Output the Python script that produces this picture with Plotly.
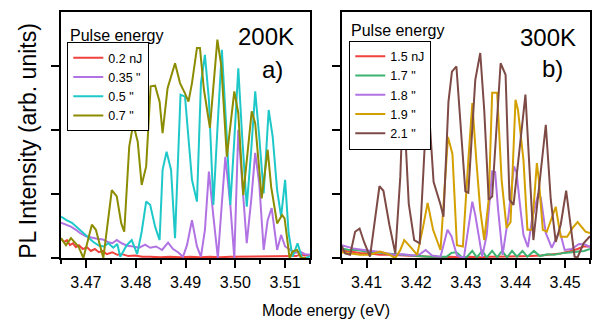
import plotly.graph_objects as go

# ---------------- data: panel a) 200 K ----------------
e_a_02 = [3.4650, 3.4656, 3.4662, 3.4668, 3.4674, 3.4680, 3.4686, 3.4694, 3.4702, 3.4710,
          3.4718, 3.4726, 3.4734, 3.4742, 3.4753, 3.4763, 3.4773, 3.4785, 3.4799, 3.4813,
          3.4829, 3.4849, 3.4869, 3.4889, 3.4909, 3.4929, 3.4949, 3.4970, 3.4990, 3.5010,
          3.5030, 3.5050, 3.5070, 3.5090, 3.5110, 3.5122, 3.5130, 3.5140, 3.5150]
i_a_02 = [0.30, 0.25, 0.28, 0.20, 0.23, 0.17, 0.20, 0.14, 0.17, 0.11,
          0.14, 0.09, 0.11, 0.06, 0.09, 0.05, 0.06, 0.03, 0.04, 0.02,
          0.02, 0.01, 0.02, 0.01, 0.02, 0.01, 0.02, 0.01, 0.02, 0.02,
          0.03, 0.02, 0.02, 0.02, 0.02, 0.03, 0.05, 0.04, 0.05]

e_a_035 = [3.4650, 3.4660, 3.4670, 3.4680, 3.4688, 3.4700, 3.4710, 3.4722, 3.4734, 3.4744,
           3.4753, 3.4762, 3.4772, 3.4783, 3.4795, 3.4807, 3.4819, 3.4829, 3.4841, 3.4853,
           3.4865, 3.4875, 3.4885, 3.4895, 3.4903, 3.4913, 3.4923, 3.4931, 3.4939, 3.4947,
           3.4956, 3.4965, 3.4972, 3.4980, 3.4990, 3.4998, 3.5006, 3.5014, 3.5023, 3.5032,
           3.5040, 3.5048, 3.5057, 3.5065, 3.5073, 3.5084, 3.5092, 3.5100, 3.5110, 3.5120,
           3.5130, 3.5140, 3.5150]
i_a_035 = [0.55, 0.52, 0.49, 0.44, 0.39, 0.34, 0.32, 0.30, 0.29, 0.25,
           0.23, 0.28, 0.23, 0.19, 0.18, 0.16, 0.21, 0.16, 0.18, 0.125,
           0.24, 0.14, 0.09, 0.02, 0.20, 0.59, 0.18, 0.02, 0.44, 1.35,
           0.65, 0.00, 0.75, 1.58, 0.83, 0.00, 2.00, 1.17, 0.23, 0.91,
           1.64, 1.17, 0.125, 0.59, 0.78, 0.125, 0.36, 0.18, 0.125, 0.08,
           0.10, 0.06, 0.05]

e_a_05 = [3.4650, 3.4661, 3.4672, 3.4688, 3.4702, 3.4715, 3.4726, 3.4736, 3.4745, 3.4755,
          3.4763, 3.4769, 3.4782, 3.4792, 3.4803, 3.4812, 3.4821, 3.4829, 3.4839, 3.4848,
          3.4854, 3.4862, 3.4871, 3.4879, 3.4890, 3.4899, 3.4913, 3.4923, 3.4931, 3.4939,
          3.4947, 3.4956, 3.4964, 3.4973, 3.4981, 3.4990, 3.4998, 3.5006, 3.5014, 3.5023,
          3.5032, 3.5040, 3.5048, 3.5057, 3.5067, 3.5075, 3.5084, 3.5092, 3.5100, 3.5107,
          3.5115, 3.5125, 3.5134, 3.5142, 3.5150]
i_a_05 = [0.645, 0.59, 0.55, 0.44, 0.34, 0.25, 0.195, 0.18, 0.23, 0.16,
          0.22, 0.02, 0.20, 0.28, 0.06, 0.41, 0.88, 0.83, 0.49, 0.28,
          1.375, 1.66, 1.375, 0.31, 2.55, 2.52, 1.22, 0.88, 2.73, 3.17,
          2.47, 0.83, 2.00, 3.25, 2.16, 0.83, 1.84, 2.96, 1.87, 0.80,
          1.69, 2.60, 1.90, 1.01, 2.31, 1.90, 1.06, 0.645, 1.22, 0.39,
          0.02, 0.23, 0.00, 0.00, 0.03]

e_a_07 = [3.4650, 3.4660, 3.4670, 3.4685, 3.4695, 3.4712, 3.4720, 3.4735, 3.4752, 3.4762,
          3.4771, 3.4777, 3.4787, 3.4795, 3.4804, 3.4812, 3.4821, 3.4830, 3.4839, 3.4848,
          3.4854, 3.4864, 3.4879, 3.4889, 3.4899, 3.4906, 3.4913, 3.4923, 3.4929, 3.4937,
          3.4949, 3.4964, 3.4972, 3.4983, 3.4998, 3.5006, 3.5016, 3.5033, 3.5040, 3.5053,
          3.5065, 3.5072, 3.5084, 3.5094, 3.5099, 3.5109, 3.5115, 3.5124, 3.5132, 3.5142]
i_a_07 = [0.31, 0.20, 0.31, 0.18, 0.00, 0.52, 0.44, 0.00, 1.06, 0.96,
          0.54, 0.41, 1.74, 2.09, 1.82, 1.14, 1.43, 2.68, 2.69, 2.44,
          1.95, 2.65, 3.04, 2.73, 2.57, 2.44, 2.73, 3.28, 3.28, 2.63,
          2.03, 3.41, 2.99, 1.58, 2.60, 2.26, 0.98, 2.29, 2.10, 0.93,
          1.69, 1.11, 0.54, 0.67, 0.62, 0.00, 0.10, 0.125, 0.00, 0.00]

# ---------------- data: panel b) 300 K ----------------
e_b_15 = [3.4050, 3.4067, 3.4087, 3.4107, 3.4127, 3.4148, 3.4168, 3.4188, 3.4208, 3.4228,
          3.4249, 3.4269, 3.4289, 3.4309, 3.4329, 3.4350, 3.4370, 3.4390, 3.4410, 3.4430,
          3.4451, 3.4471, 3.4491, 3.4507, 3.4525, 3.4537, 3.4550]
i_b_15 = [0.12, 0.10, 0.08, 0.07, 0.05, 0.05, 0.04, 0.04, 0.02, 0.02,
          0.01, 0.02, 0.01, 0.02, 0.01, 0.02, 0.02, 0.02, 0.02, 0.03,
          0.04, 0.05, 0.07, 0.10, 0.14, 0.18, 0.18]

e_b_17 = [3.4050, 3.4063, 3.4080, 3.4099, 3.4119, 3.4139, 3.4161, 3.4180, 3.4202, 3.4224,
          3.4249, 3.4261, 3.4271, 3.4281, 3.4291, 3.4301, 3.4313, 3.4322, 3.4333, 3.4342,
          3.4353, 3.4363, 3.4373, 3.4383, 3.4393, 3.4403, 3.4414, 3.4424, 3.4437, 3.4449,
          3.4464, 3.4477, 3.4498, 3.4518, 3.4538, 3.4550]
i_b_17 = [0.15, 0.13, 0.125, 0.10, 0.09, 0.07, 0.06, 0.05, 0.03, 0.02,
          0.02, 0.02, 0.08, 0.09, 0.02, 0.01, 0.11, 0.01, 0.11, 0.01,
          0.11, 0.01, 0.11, 0.01, 0.11, 0.02, 0.11, 0.02, 0.11, 0.03,
          0.06, 0.05, 0.08, 0.10, 0.11, 0.14]

e_b_18 = [3.4050, 3.4059, 3.4073, 3.4091, 3.4111, 3.4131, 3.4154, 3.4174, 3.4194, 3.4208,
          3.4219, 3.4232, 3.4249, 3.4263, 3.4271, 3.4282, 3.4296, 3.4313, 3.4319, 3.4333,
          3.4342, 3.4353, 3.4359, 3.4365, 3.4374, 3.4386, 3.4397, 3.4402, 3.4409, 3.4416,
          3.4425, 3.4433, 3.4446, 3.4451, 3.4461, 3.4473, 3.4489, 3.4499, 3.4513, 3.4528,
          3.4540, 3.4550]
i_b_18 = [0.20, 0.18, 0.15, 0.13, 0.11, 0.09, 0.05, 0.06, 0.04, 0.06,
          0.125, 0.04, 0.02, 0.44, 0.34, 0.04, 0.00, 0.88, 0.67, 0.02,
          0.36, 1.35, 1.34, 0.75, 0.05, 0.67, 1.43, 1.34, 0.83, 0.36,
          0.17, 0.59, 1.01, 0.94, 0.39, 0.16, 0.42, 0.125, 0.14, 0.22,
          0.21, 0.17]

e_b_19 = [3.4050, 3.4067, 3.4087, 3.4107, 3.4127, 3.4144, 3.4158, 3.4168, 3.4176, 3.4191,
          3.4202, 3.4214, 3.4223, 3.4234, 3.4249, 3.4264, 3.4273, 3.4282, 3.4294, 3.4305,
          3.4313, 3.4321, 3.4329, 3.4337, 3.4346, 3.4353, 3.4363, 3.4372, 3.4382, 3.4390,
          3.4400, 3.4405, 3.4416, 3.4424, 3.4433, 3.4443, 3.4447, 3.4455, 3.4463, 3.4481,
          3.4491, 3.4504, 3.4515, 3.4525, 3.4541, 3.4550]
i_b_19 = [0.09, 0.07, 0.05, 0.05, 0.10, 0.06, 0.00, 0.125, 0.28, 0.15,
          0.05, 0.49, 0.86, 0.44, 0.125, 1.89, 1.625, 0.20, 0.18, 1.53,
          2.42, 1.53, 0.75, 0.28, 0.91, 2.58, 2.58, 1.22, 0.47, 0.56,
          2.47, 2.31, 1.53, 0.44, 0.44, 1.48, 1.22, 0.44, 0.41, 0.80,
          0.33, 0.33, 0.47, 0.56, 0.41, 0.39]

e_b_21 = [3.4050, 3.4057, 3.4067, 3.4077, 3.4086, 3.4095, 3.4107, 3.4126, 3.4134, 3.4146,
          3.4158, 3.4168, 3.4174, 3.4185, 3.4196, 3.4207, 3.4223, 3.4235, 3.4249, 3.4255,
          3.4265, 3.4272, 3.4281, 3.4292, 3.4299, 3.4305, 3.4319, 3.4329, 3.4337, 3.4346,
          3.4353, 3.4370, 3.4380, 3.4388, 3.4396, 3.4420, 3.4428, 3.4436, 3.4461, 3.4471,
          3.4481, 3.4491, 3.4502, 3.4511, 3.4519, 3.4525, 3.4537, 3.4550]
i_b_21 = [0.19, 0.07, 0.05, 0.41, 0.46, 0.25, 0.02, 1.12, 1.05, 0.52,
          0.07, 1.27, 2.55, 0.85, 0.28, 0.23, 2.62, 1.19, 0.83, 0.645,
          2.44, 2.91, 2.99, 1.84, 1.04, 1.02, 2.78, 3.20, 2.31, 0.91,
          0.96, 3.04, 2.86, 0.91, 0.83, 2.55, 1.375, 0.28, 2.08, 0.91,
          0.25, 0.52, 1.05, 0.50, 0.02, 0.01, 0.23, 0.34]

labels_a = ["0.2 nJ", '0.35 "', '0.5 "', '0.7 "']
labels_b = ["1.5 nJ", '1.7 "', '1.8 "', '1.9 "', '2.1 "']
colors_a = ["#f0413c", "#b173e3", "#1fc8c8", "#8c8c00"]
colors_b = ["#f0413c", "#3cb371", "#b173e3", "#d4a000", "#7d4a45"]

FONT = "Liberation Sans, Arial, sans-serif"
W, H = 601, 324

fig = go.Figure()
series_a = [(e_a_02, i_a_02), (e_a_035, i_a_035), (e_a_05, i_a_05), (e_a_07, i_a_07)]
for (e, i), lab, c in zip(series_a, labels_a, colors_a):
    fig.add_trace(go.Scatter(x=e, y=i, mode="lines", name=lab,
                             line=dict(color=c, width=2),
                             xaxis="x", yaxis="y", legend="legend"))
series_b = [(e_b_15, i_b_15), (e_b_17, i_b_17), (e_b_18, i_b_18), (e_b_19, i_b_19), (e_b_21, i_b_21)]
for (e, i), lab, c in zip(series_b, labels_b, colors_b):
    fig.add_trace(go.Scatter(x=e, y=i, mode="lines", name=lab,
                             line=dict(color=c, width=2),
                             xaxis="x2", yaxis="y2", legend="legend2"))

px = lambda v: v / W
py = lambda v: 1 - v / H

dom_ax = [px(61), px(310)]
dom_bx = [px(341.7), px(590)]
dom_y = [py(258), py(12)]
yr = [0, 3.84]

xcommon = dict(showline=True, linecolor="black", linewidth=1.5, mirror=True,
               ticks="outside", ticklen=8, tickwidth=1.5, tickcolor="black",
               dtick=0.01, tickformat=".2f", showgrid=False, zeroline=False,
               tickfont=dict(family=FONT, size=16, color="black"),
               minor=dict(ticks="outside", ticklen=4, tickwidth=1.5, dtick=0.005,
                          tickcolor="black", showgrid=False),
               ticklabelstandoff=1)
ycommon = dict(showline=True, linecolor="black", linewidth=1.5, mirror=True,
               ticks="outside", ticklen=8, tickwidth=1.5, tickcolor="black",
               dtick=1, showticklabels=False, showgrid=False, zeroline=False,
               range=yr)
xtop = dict(side="top", ticks="inside", ticklen=6, tickwidth=1.5, tickcolor="black",
            dtick=0.01, showticklabels=False, showgrid=False, zeroline=False,
            showline=False,
            minor=dict(ticks="inside", ticklen=3, tickwidth=1.5, dtick=0.005,
                       tickcolor="black", showgrid=False))
yright = dict(side="right", ticks="inside", ticklen=5, tickwidth=1.5, tickcolor="black",
              dtick=1, showticklabels=False, showgrid=False, zeroline=False,
              showline=False, range=yr)

fig.update_layout(
    width=W, height=H, margin=dict(l=0, r=0, t=0, b=0),
    paper_bgcolor="white", plot_bgcolor="white",
    font=dict(family=FONT, color="black"),
    xaxis=dict(domain=dom_ax, range=[3.465, 3.515], anchor="y", tick0=3.47, **xcommon),
    yaxis=dict(domain=dom_y, anchor="x", **ycommon),
    xaxis2=dict(domain=dom_bx, range=[3.405, 3.455], anchor="y2", tick0=3.41, **xcommon),
    yaxis2=dict(domain=dom_y, anchor="x2", **ycommon),
    xaxis3=dict(overlaying="x", anchor="y", range=[3.465, 3.515], tick0=3.47, **xtop),
    yaxis3=dict(overlaying="y", anchor="x", **yright),
    xaxis4=dict(overlaying="x2", anchor="y2", range=[3.405, 3.455], tick0=3.41, **xtop),
    yaxis4=dict(overlaying="y2", anchor="x2", **yright),
    legend=dict(x=px(67.3), y=py(42), xanchor="left", yanchor="top",
                bgcolor="white", bordercolor="black", borderwidth=1,
                font=dict(family=FONT, size=12.5, color="black"),
                itemwidth=30, tracegroupgap=0),
    legend2=dict(x=px(349.3), y=py(40.7), xanchor="left", yanchor="top",
                 bgcolor="white", bordercolor="black", borderwidth=1,
                 font=dict(family=FONT, size=12.5, color="black"),
                 itemwidth=30, tracegroupgap=0),
    showlegend=True,
)

ann = [
    dict(text="PL Intensity (arb. units)", x=px(28), y=py(140.8), textangle=-90,
         font=dict(size=23)),
    dict(text="Mode energy (eV)", x=px(325.7), y=py(310), font=dict(size=16)),
    dict(text="200K", x=px(265.8), y=py(36.7), font=dict(size=24)),
    dict(text="a)", x=px(272.5), y=py(70), font=dict(size=24)),
    dict(text="300K", x=px(547.5), y=py(37.5), font=dict(size=24)),
    dict(text="b)", x=px(552), y=py(68.3), font=dict(size=24)),
    dict(text="Pulse energy", x=px(68.3), y=py(35), xanchor="left", font=dict(size=16)),
    dict(text="Pulse energy", x=px(349.3), y=py(30.5), xanchor="left", font=dict(size=16)),
]
for a in ann:
    a.setdefault("xanchor", "center")
    a.update(xref="paper", yref="paper", yanchor="middle", showarrow=False)
    a["font"] = dict(family=FONT, color="black", **a["font"])
fig.update_layout(annotations=ann)

fig.write_html("out.html", config={"displayModeBar": False},
               post_script="document.body.style.margin='0';document.body.style.overflow='hidden';")
